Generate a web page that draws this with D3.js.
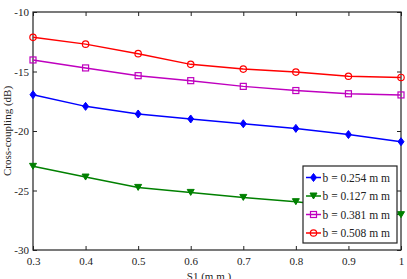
<!DOCTYPE html>
<html>
<head>
<meta charset="utf-8">
<script src="https://cdn.jsdelivr.net/npm/d3@7"></script>
<style>
  body { margin: 0; background: #fff; }
  svg { display: block; font-family: "Liberation Serif", "DejaVu Serif", serif; }
</style>
</head>
<body>
<svg id="chart"></svg>
<script>
const s1 = [0.3, 0.4, 0.5, 0.6, 0.7, 0.8, 0.9, 1.0];

const b254 = [-16.95, -17.93, -18.57, -18.99, -19.39, -19.78, -20.3, -20.9];
const b127 = [-22.97, -23.87, -24.74, -25.16, -25.58, -25.94, -26.4, -27.03];
const b381 = [-14.03, -14.7, -15.35, -15.77, -16.25, -16.6, -16.87, -16.97];
const b508 = [-12.13, -12.7, -13.5, -14.4, -14.8, -15.05, -15.4, -15.5];

const xTicks = [0.3, 0.4, 0.5, 0.6, 0.7, 0.8, 0.9, 1];
const yTicks = [-30, -25, -20, -15, -10];

const series = [
  { name: "b = 0.254 m m", values: b254, color: "#0000ff", marker: "diamond" },
  { name: "b = 0.127 m m", values: b127, color: "#008000", marker: "tri" },
  { name: "b = 0.381 m m", values: b381, color: "#bf00bf", marker: "square" },
  { name: "b = 0.508 m m", values: b508, color: "#ff0000", marker: "circle" }
];

let width = 407, height = 279;
const margin = { top: 12, right: 6, bottom: 29, left: 33 };

const svg = d3.select("#chart")
  .attr("width", width)
  .attr("height", height);

const x = d3.scaleLinear().domain([0.3, 1]).range([margin.left, width - margin.right]);
const y = d3.scaleLinear().domain([-30, -10]).range([height - margin.bottom, margin.top]);

// axes with inward ticks, box style
const tickLen = 4;
svg.append("g")
  .attr("transform", `translate(0,${y(-30)})`)
  .call(d3.axisBottom(x).tickValues(xTicks).tickFormat(d => d === 1 ? "1" : d3.format(".1f")(d)).tickSizeInner(-tickLen).tickSizeOuter(0).tickPadding(7))
  .call(g => g.select(".domain").remove());

svg.append("g")
  .attr("transform", `translate(${x(0.3)},0)`)
  .call(d3.axisLeft(y).tickValues(yTicks).tickFormat(d => String(d)).tickSizeInner(-tickLen).tickSizeOuter(0).tickPadding(4))
  .call(g => g.select(".domain").remove());

svg.append("g")
  .attr("transform", `translate(0,${y(-10)})`)
  .call(d3.axisTop(x).tickValues(xTicks).tickFormat("").tickSizeInner(-tickLen).tickSizeOuter(0))
  .call(g => g.select(".domain").remove());

svg.append("g")
  .attr("transform", `translate(${x(1)},0)`)
  .call(d3.axisRight(y).tickValues(yTicks).tickFormat("").tickSizeInner(-tickLen).tickSizeOuter(0))
  .call(g => g.select(".domain").remove());

svg.selectAll(".tick text")
  .attr("font-family", "Liberation Serif, serif")
  .attr("font-size", 11)
  .attr("fill", "#222");
svg.selectAll(".tick line").attr("stroke", "#222");

svg.append("rect")
  .attr("x", x(0.3)).attr("y", y(-10))
  .attr("width", x(1) - x(0.3)).attr("height", y(-30) - y(-10))
  .attr("fill", "none").attr("stroke", "#222").attr("stroke-width", 1.2);

const line = d3.line()
  .x((d, i) => x(s1[i]))
  .y(d => y(d));

function drawMarker(g, type, cx, cy, color) {
  if (type === "circle") {
    g.append("circle").attr("cx", cx).attr("cy", cy).attr("r", 3.2)
      .attr("fill", "none").attr("stroke", color).attr("stroke-width", 1.2);
  } else if (type === "square") {
    g.append("rect").attr("x", cx - 3).attr("y", cy - 3).attr("width", 6).attr("height", 6)
      .attr("fill", "none").attr("stroke", color).attr("stroke-width", 1.2);
  } else if (type === "diamond") {
    g.append("path").attr("d", `M${cx},${cy - 4}L${cx + 3},${cy}L${cx},${cy + 4}L${cx - 3},${cy}Z`)
      .attr("fill", color).attr("stroke", color).attr("stroke-width", 1);
  } else {
    g.append("path").attr("d", `M${cx - 3.5},${cy - 3}L${cx + 3.5},${cy - 3}L${cx},${cy + 3}Z`)
      .attr("fill", color).attr("stroke", color).attr("stroke-width", 1);
  }
}

series.forEach(s => {
  const g = svg.append("g");
  g.append("path")
    .datum(s.values)
    .attr("d", line)
    .attr("fill", "none")
    .attr("stroke", s.color)
    .attr("stroke-width", 1.5);
  s.values.forEach((v, i) => drawMarker(g, s.marker, x(s1[i]), y(v), s.color));
});

// legend
const lx = 303, ly = 166, lw = 94, lh = 77;
const legend = svg.append("g");
legend.append("rect")
  .attr("x", lx).attr("y", ly).attr("width", lw).attr("height", lh)
  .attr("fill", "#fff").attr("stroke", "#222").attr("stroke-width", 1.2);
series.forEach((s, i) => {
  const yy = ly + 11.5 + i * 18.5;
  legend.append("line")
    .attr("x1", lx + 3).attr("x2", lx + 18).attr("y1", yy).attr("y2", yy)
    .attr("stroke", s.color).attr("stroke-width", 1.5);
  drawMarker(legend, s.marker, lx + 10.5, yy, s.color);
  legend.append("text")
    .attr("x", lx + 19.5).attr("y", yy + 4)
    .attr("font-size", 11.5).attr("fill", "#222")
    .text(s.name);
});

// axis labels
svg.append("text")
  .attr("x", (x(0.3) + x(1)) / 2 - 8).attr("y", height + 1)
  .attr("text-anchor", "middle")
  .attr("font-size", 11).attr("fill", "#222")
  .text("S1 (m m )");

svg.append("text")
  .attr("transform", `translate(11,${(y(-10) + y(-30)) / 2}) rotate(-90)`)
  .attr("text-anchor", "middle")
  .attr("font-size", 11).attr("fill", "#222")
  .text("Cross-coupling (dB)");
</script>
</body>
</html>
